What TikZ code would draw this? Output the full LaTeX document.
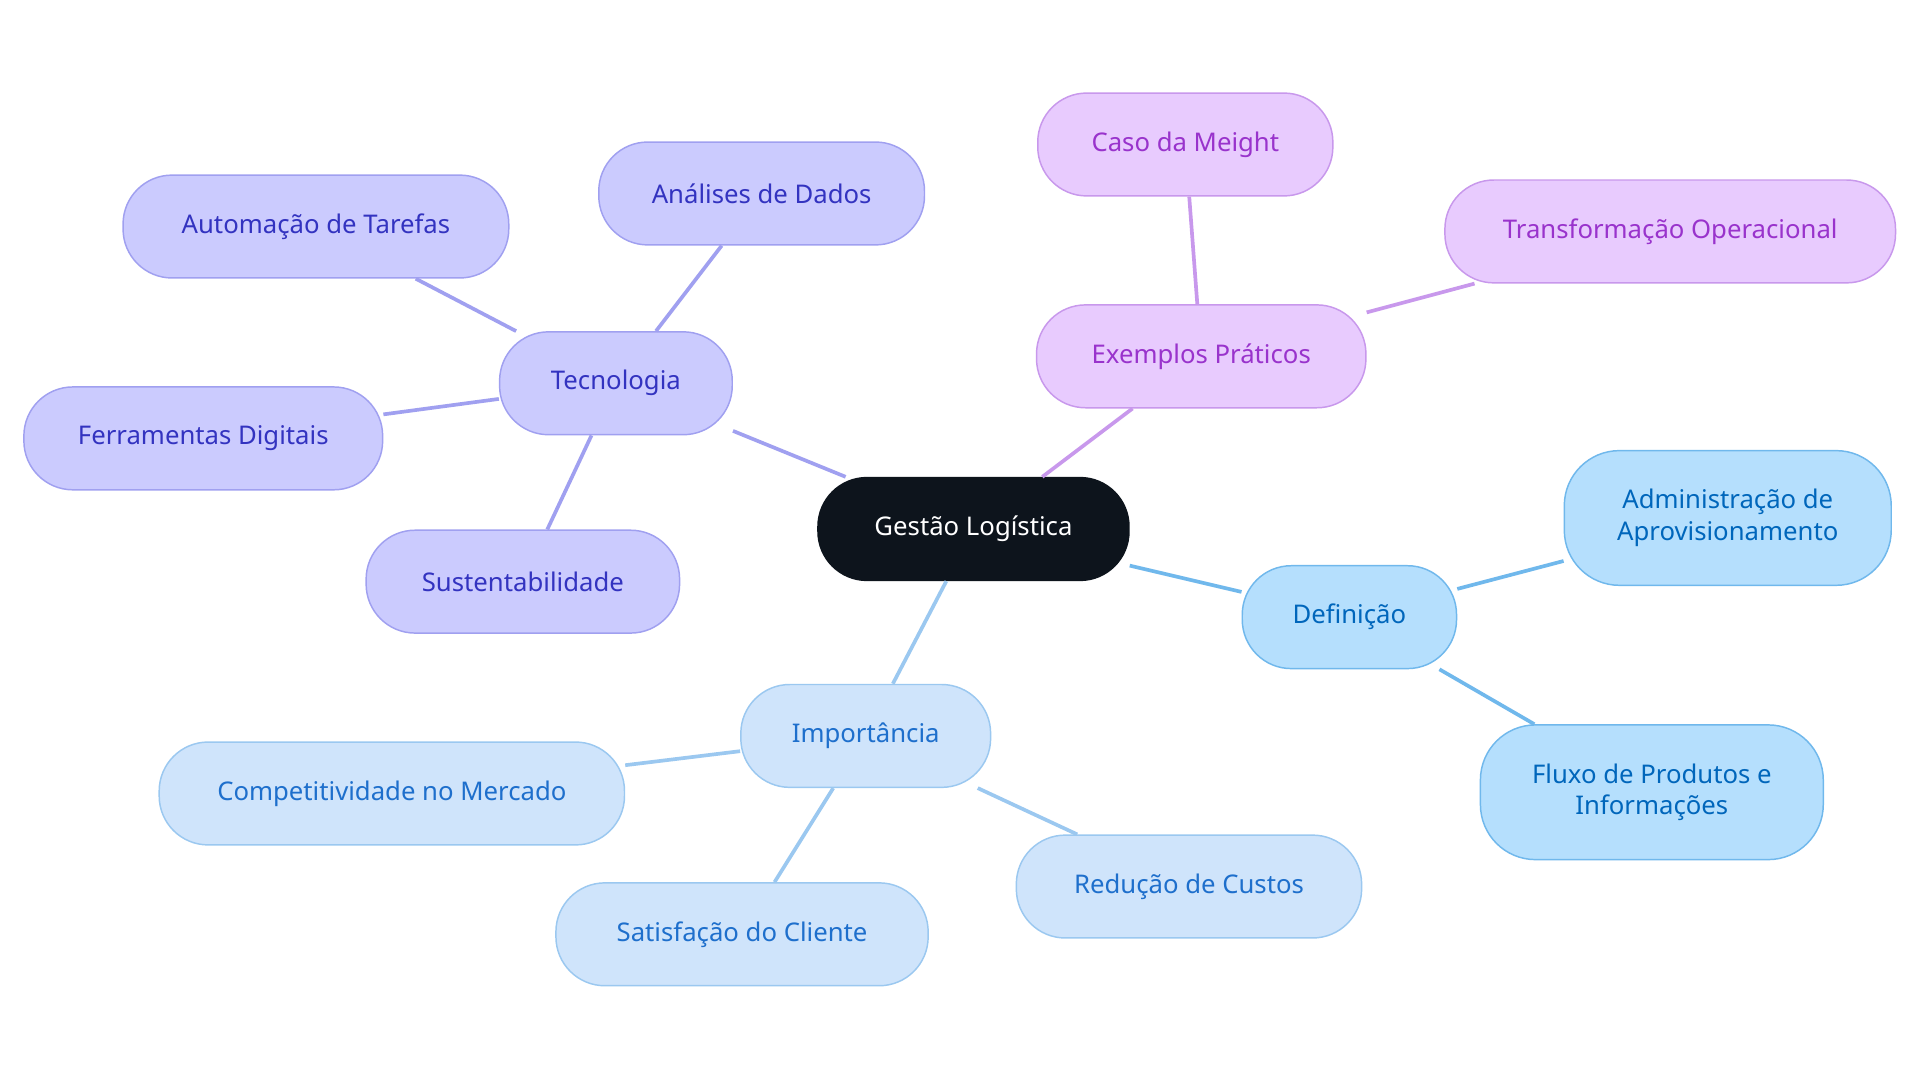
\documentclass[tikz,border=0pt]{standalone}
\usepackage{fontspec}
\setmainfont{Noto Sans}
\begin{document}
\begin{tikzpicture}[x=1pt,y=-1pt,
 base/.style={rounded corners=40pt,minimum height=84pt,align=center,font=\fontsize{21}{26}\selectfont,line width=1.2pt,inner sep=0pt},
 tec/.style={base,fill=tecF,draw=tecB,text=tecT},
 pur/.style={base,fill=purF,draw=purB,text=purT},
 def/.style={base,fill=defF,draw=defB,text=defT},
 imp/.style={base,fill=impF,draw=impB,text=impT},
 lk/.style={line width=3pt}]
\definecolor{tecF}{HTML}{CBCBFE}\definecolor{tecB}{HTML}{A0A0F0}\definecolor{tecT}{HTML}{3333C0}
\definecolor{purF}{HTML}{E8CBFE}\definecolor{purB}{HTML}{C898EC}\definecolor{purT}{HTML}{9933CC}
\definecolor{defF}{HTML}{B5DFFD}\definecolor{defB}{HTML}{70B8EC}\definecolor{defT}{HTML}{0066BB}
\definecolor{impF}{HTML}{CFE4FB}\definecolor{impB}{HTML}{9BC8F0}\definecolor{impT}{HTML}{1E6FCC}
\useasboundingbox[fill=white] (0,0) rectangle (1568,884.5);
\node[base,fill={rgb,255:red,13;green,20;blue,28},draw={rgb,255:red,13;green,20;blue,28},text=white,minimum width=254pt] (g) at (795,432) {Gestão Logística};
\node[tec,minimum width=190pt] (t) at (503,313) {Tecnologia};
\node[tec,minimum width=266pt] (t1) at (622,158) {Análises de Dados};
\node[tec,minimum width=315pt] (t2) at (258,185) {Automação de Tarefas};
\node[tec,minimum width=293pt] (t3) at (166,358) {Ferramentas Digitais};
\node[tec,minimum width=256pt] (t4) at (427,475) {Sustentabilidade};
\node[pur,minimum width=269pt] (e) at (981,291) {Exemplos Práticos};
\node[pur,minimum width=241pt] (e1) at (968,118) {Caso da Meight};
\node[pur,minimum width=368pt] (e2) at (1364,189) {Transformação Operacional};
\node[def,minimum width=175pt] (d) at (1102,504) {Definição};
\node[def,minimum width=267pt,minimum height=110pt,rounded corners=45pt] (d1) at (1411,423) {Administração de\\Aprovisionamento};
\node[def,minimum width=280pt,minimum height=110pt,rounded corners=45pt] (d2) at (1349,647) {Fluxo de Produtos e\\Informações};
\node[imp,minimum width=204pt] (i) at (707,601) {Importância};
\node[imp,minimum width=380pt] (i1) at (320,648) {Competitividade no Mercado};
\node[imp,minimum width=304pt] (i2) at (606,763) {Satisfação do Cliente};
\node[imp,minimum width=282pt] (i3) at (971,724) {Redução de Custos};
\draw[lk,tecB] (g)--(t) (t)--(t1) (t)--(t2) (t)--(t3) (t)--(t4);
\draw[lk,purB] (g)--(e) (e)--(e1) (e)--(e2);
\draw[lk,defB] (g)--(d) (d)--(d1) (d)--(d2);
\draw[lk,impB] (g)--(i) (i)--(i1) (i)--(i2) (i)--(i3);
\end{tikzpicture}
\end{document}
